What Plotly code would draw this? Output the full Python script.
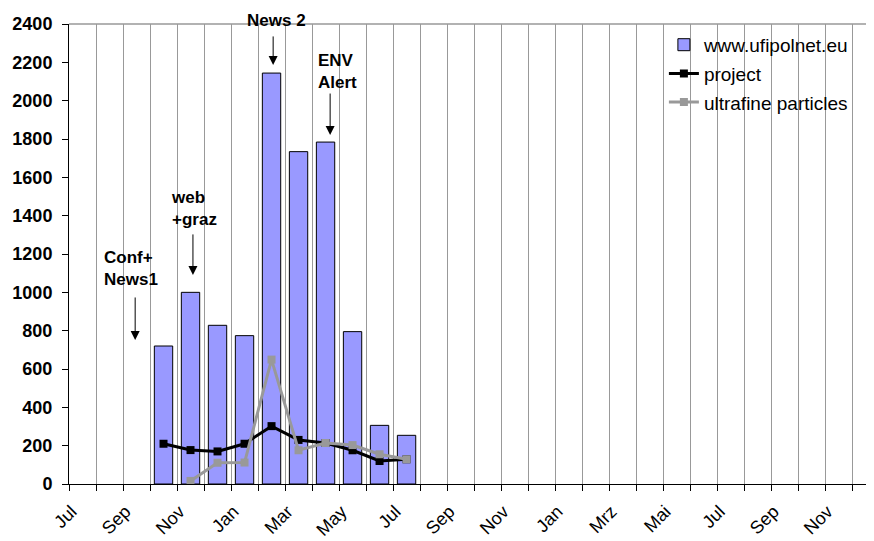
import plotly.graph_objects as go

months = ["Jul", "Aug", "Sep", "Okt", "Nov", "Dez", "Jan", "Feb", "Mar", "Apr",
          "May", "Jun", "Jul", "Aug", "Sep", "Okt", "Nov", "Dez", "Jan", "Feb",
          "Mrz", "Apr", "Mai", "Jun", "Jul", "Aug", "Sep", "Okt", "Nov", "Dez"]
tick_labels = ["Jul", "Sep", "Nov", "Jan", "Mar", "May", "Jul", "Sep", "Nov",
               "Jan", "Mrz", "Mai", "Jul", "Sep", "Nov"]

website = [None, None, None, 720, 1000, 828, 774, 2144, 1734, 1784, 795, 306, 254] + [None] * 17
project = [None, None, None, 210, 177, 170, 210, 302, 230, 214, 176, 120, 129] + [None] * 17
ultrafine = [None, None, None, None, 16, 111, 112, 649, 176, 214, 203, 155, 129] + [None] * 17

# annotations: (text, text_x, text_y, arrow_x, arrow_from_y, arrow_to_y)
events = [
    ("Conf+<br>News1", 1.8, 1124, 1.95, 981, 751),
    ("web<br>+graz", 4.13, 1440, 4.09, 1310, 1090),
    ("News 2", 7.19, 2400, 7.06, 2343, 2186),
    ("ENV<br>Alert", 9.44, 2150, 9.17, 2045, 1821),
]

x = list(range(len(months)))
FONT = "Liberation Sans, Arial, sans-serif"

fig = go.Figure()
fig.add_trace(go.Bar(
    x=x, y=website, name="www.ufipolnet.eu", width=0.68,
    marker=dict(color="#9999FF", line=dict(color="black", width=1)),
    legendgroup="a",
))
fig.add_trace(go.Scatter(
    x=x, y=project, name="project", mode="lines+markers",
    line=dict(color="black", width=3),
    marker=dict(symbol="square", size=8, color="black"),
    legendgroup="b",
))
fig.add_trace(go.Scatter(
    x=x, y=ultrafine, name="ultrafine particles", mode="lines+markers",
    line=dict(color="#999999", width=3),
    marker=dict(symbol="square", size=8, color="#999999"),
    legendgroup="c",
))

annotations = []
for text, tx, ty, axx, y0, y1 in events:
    annotations.append(dict(x=tx, y=ty, xref="x", yref="y", text="<b>" + text + "</b>",
                            showarrow=False, font=dict(size=17, color="black", family=FONT),
                            align="left", yshift=4 if ty >= 2400 else 0))
    annotations.append(dict(x=axx, y=y1, ax=axx, ay=y0, xref="x", yref="y",
                            axref="x", ayref="y", text="", showarrow=True,
                            arrowhead=2, arrowsize=1.8, arrowwidth=1, arrowcolor="black"))

fig.update_layout(
    width=866, height=533,
    margin=dict(l=61, r=0, t=16, b=57, autoexpand=False),
    paper_bgcolor="white", plot_bgcolor="white",
    font=dict(family=FONT, color="black"),
    showlegend=True,
    legend=dict(x=0.739, y=0.996, xanchor="left", yanchor="top",
                bgcolor="rgba(0,0,0,0)", font=dict(size=19, family=FONT, color="black"),
                tracegroupgap=1, itemwidth=30),
    annotations=annotations,
    shapes=[
        dict(type="line", xref="paper", yref="paper", x0=0, x1=1, y0=1, y1=1,
             line=dict(color="#999999", width=1.5), layer="below"),
        dict(type="rect", xref="paper", yref="paper", x0=0.728, x1=1.0, y0=0.796, y1=0.987,
             fillcolor="white", line=dict(width=0), layer="between"),
    ],
)
fig.update_xaxes(
    range=[-0.5, 29.31],
    automargin=False,
    tickmode="array",
    tickvals=x[::2],
    ticktext=tick_labels,
    tickangle=-45,
    ticks="",
    ticklabelshift=-11,
    ticklabelstandoff=9,
    tickfont=dict(size=18, family=FONT, color="black"),
    showgrid=False,
    showline=True, linecolor="black", linewidth=1,
    zeroline=False,
    minor=dict(tick0=-0.5, dtick=1, ticks="outside", ticklen=6, tickcolor="black",
               showgrid=True, gridcolor="#999999", gridwidth=1),
)
fig.update_yaxes(
    range=[0, 2400], dtick=200,
    automargin=False,
    ticks="outside", ticklen=6, tickcolor="black",
    ticklabelstandoff=6,
    showgrid=False, zeroline=False,
    showline=True, linecolor="black", linewidth=1,
    tickfont=dict(size=18, family=FONT, color="black", weight="bold"),
)
fig.write_html("out.html")
